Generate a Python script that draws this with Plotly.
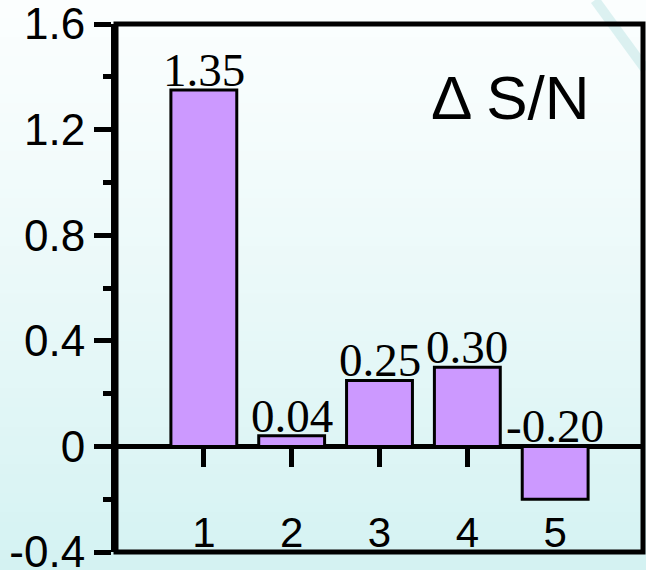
import plotly.graph_objects as go

# ---- data ----
categories = [1, 2, 3, 4, 5]
values = [1.35, 0.04, 0.25, 0.30, -0.20]
value_labels = ["1.35", "0.04", "0.25", "0.30", "-0.20"]
x_tick_labels = ["1", "2", "3", "4", "5"]
y_ticks = [-0.4, 0, 0.4, 0.8, 1.2, 1.6]
y_tick_labels = ["-0.4", "0", "0.4", "0.8", "1.2", "1.6"]
y_minor_ticks = [-0.2, 0.2, 0.6, 1.0, 1.4]
panel_label = "\u0394 S/N"

Y_RANGE = [-0.4, 1.6]
X_RANGE = [0, 6]

fig = go.Figure()
fig.add_trace(go.Bar(
    x=categories, y=values, width=0.75,
    marker=dict(color="#CC99FF", line=dict(color="black", width=3)),
    hoverinfo="skip", showlegend=False,
))

for x, v, t in zip(categories, values, value_labels):
    fig.add_annotation(
        x=x, y=max(v, 0), xref="x", yref="y", text=t, showarrow=False,
        yanchor="bottom", yshift=-8,
        font=dict(family="Liberation Serif", size=47, color="black"),
    )

fig.add_annotation(
    x=0.748, y=0.86, xref="paper", yref="paper", text=panel_label,
    showarrow=False, xanchor="center", yanchor="middle",
    font=dict(family="Liberation Sans", size=62, color="black"),
)

# background gradient (paper coords extending to full page)
W, H = 646, 570
ml, mr, mt, mb = 116, 3, 24, 18
pw, ph = W - ml - mr, H - mt - mb
x_left = -ml / pw
x_right = 1 + mr / pw
y_bot = -mb / ph
y_top = 1 + mt / ph
n = 60
top_c = (251, 254, 254)
bot_c = (212, 242, 242)
shapes = []
for i in range(n):
    f0 = i / n
    f1 = (i + 1) / n
    t = ((f0 + f1) / 2) ** 1.2
    c = tuple(int(round(top_c[k] + (bot_c[k] - top_c[k]) * t)) for k in range(3))
    y1 = y_top - (y_top - y_bot) * f0
    y0 = y_top - (y_top - y_bot) * f1
    shapes.append(dict(type="rect", xref="paper", yref="paper",
                       x0=x_left, x1=x_right, y0=y0 - 0.002, y1=y1 + 0.002,
                       line=dict(width=0), fillcolor="rgb(%d,%d,%d)" % c, layer="below"))
# faint streak top right
shapes.append(dict(type="line", xref="paper", yref="paper",
                   x0=(595 - ml) / pw, y0=y_top, x1=(646 - ml) / pw, y1=1 - (70 - mt) / ph,
                   line=dict(color="rgba(150,212,212,0.3)", width=10), layer="below"))
# plot box
shapes.append(dict(type="rect", xref="paper", yref="paper", x0=0, x1=1, y0=0, y1=1,
                   line=dict(color="black", width=5), fillcolor="rgba(0,0,0,0)", layer="above"))

zero_pos = (0 - Y_RANGE[0]) / (Y_RANGE[1] - Y_RANGE[0])

fig.update_layout(
    width=W, height=H,
    margin=dict(l=ml, r=mr, t=mt, b=mb, pad=0, autoexpand=False),
    paper_bgcolor="rgb(220,244,244)",
    plot_bgcolor="rgba(0,0,0,0)",
    shapes=shapes,
    xaxis=dict(
        range=X_RANGE, anchor="free", position=zero_pos, automargin=False,
        layer="below traces",
        showline=True, linewidth=5, linecolor="black",
        ticks="outside", ticklen=18, tickwidth=5, tickcolor="black",
        tickmode="array", tickvals=categories, ticktext=x_tick_labels,
        tickfont=dict(family="Liberation Sans", size=42, color="black"),
        ticklabelstandoff=29, ticklabeloverflow="allow",
        showgrid=False, zeroline=False, fixedrange=True,
    ),
    yaxis=dict(
        range=Y_RANGE, automargin=False,
        showline=True, linewidth=5, linecolor="black",
        ticks="outside", ticklen=17, tickwidth=5, tickcolor="black",
        tickmode="array", tickvals=y_ticks, ticktext=y_tick_labels,
        tickfont=dict(family="Liberation Sans", size=44, color="black"),
        ticklabeloverflow="allow",
        minor=dict(tickmode="array", tickvals=y_minor_ticks, ticks="outside",
                   ticklen=8, tickwidth=5, tickcolor="black", showgrid=False),
        showgrid=False, zeroline=False, fixedrange=True,
    ),
)

fig.write_html(
    "out.html",
    config={"displayModeBar": False},
    post_script="document.body.style.margin='0';document.body.style.overflow='hidden';",
)
